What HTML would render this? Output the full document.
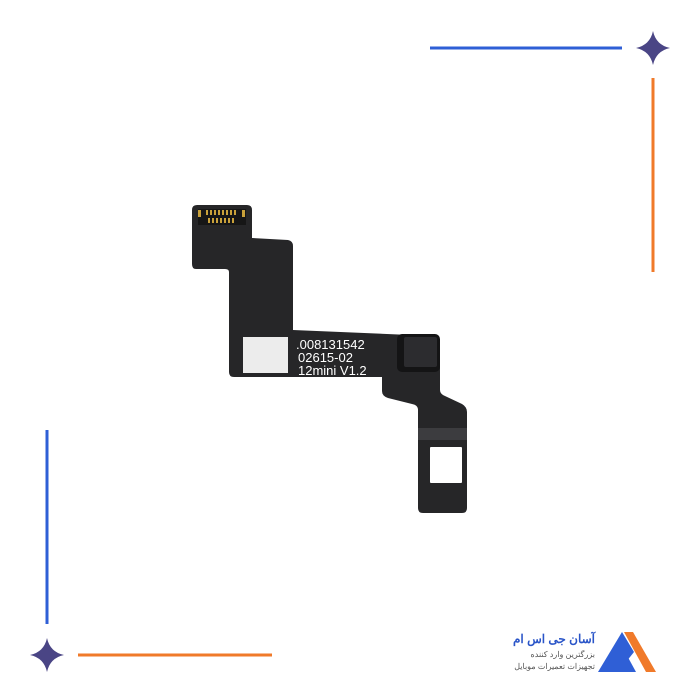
<!DOCTYPE html>
<html><head><meta charset="utf-8"><style>
html,body{margin:0;padding:0;background:#fff;width:700px;height:700px;overflow:hidden}
</style></head><body>
<svg width="700" height="700" viewBox="0 0 700 700" xmlns="http://www.w3.org/2000/svg">
<rect width="700" height="700" fill="#fff"/>
<line x1="430" y1="48" x2="622" y2="48" stroke="#2f5fd6" stroke-width="3"/>
<line x1="653" y1="78" x2="653" y2="272" stroke="#f07a2a" stroke-width="3"/>
<line x1="47" y1="430" x2="47" y2="624" stroke="#2f5fd6" stroke-width="3"/>
<line x1="78" y1="655" x2="272" y2="655" stroke="#f07a2a" stroke-width="3"/>
<path d="M653 31 Q656 45 670 48 Q656 51 653 65 Q650 51 636 48 Q650 45 653 31Z" fill="#4a4585"/>
<path d="M47 638 Q50 652 64 655 Q50 658 47 672 Q44 658 30 655 Q44 652 47 638Z" fill="#4a4585"/>
<path d="M197 205 L247 205 Q252 205 252 210 L252 238 L288 240 Q293 241 293 246 L293 330 L434 336 Q440 337 440 342 L440 390 Q440 394 445 396 L462 404 Q467 407 467 412 L467 508 Q467 513 462 513 L423 513 Q418 513 418 508 L418 410 Q418 405 412 404 L388 398 Q382 396 382 391 L382 377 L234 377 Q229 377 229 372 L229 272 Q229 269 225 269 L196 269 Q192 269 192 264 L192 210 Q192 205 197 205Z" fill="#262628"/>
<rect x="418" y="428" width="49" height="12" fill="#3c3c3f"/>
<rect x="430" y="447" width="32" height="36" fill="#fff" rx="1"/>
<rect x="243" y="337" width="45" height="36" fill="#ececec"/>
<rect x="397" y="334" width="43" height="38" rx="5" fill="#141415"/>
<rect x="404" y="337" width="33" height="30" rx="2" fill="#2c2c2f"/>
<rect x="198" y="209" width="48" height="16" fill="#161616"/>
<g fill="#c9a13a">
<rect x="198" y="210" width="3" height="7"/><rect x="242" y="210" width="3" height="7"/>
<rect x="206" y="210" width="2" height="5"/><rect x="210" y="210" width="2" height="5"/><rect x="214" y="210" width="2" height="5"/><rect x="218" y="210" width="2" height="5"/><rect x="222" y="210" width="2" height="5"/><rect x="226" y="210" width="2" height="5"/><rect x="230" y="210" width="2" height="5"/><rect x="234" y="210" width="2" height="5"/>
<rect x="208" y="218" width="2" height="5"/><rect x="212" y="218" width="2" height="5"/><rect x="216" y="218" width="2" height="5"/><rect x="220" y="218" width="2" height="5"/><rect x="224" y="218" width="2" height="5"/><rect x="228" y="218" width="2" height="5"/><rect x="232" y="218" width="2" height="5"/>
</g>
<g font-family="Liberation Sans, sans-serif" font-size="13" fill="#fff">
<text x="296" y="349">.008131542</text>
<text x="298" y="362">02615-02</text>
<text x="298" y="375">12mini V1.2</text>
</g>
<path d="M598 672 L622 632 L634 652 L618 672Z" fill="#2f5fd6"/>
<path d="M610 672 L624 650 L636 672Z" fill="#2f5fd6"/>
<path d="M624 632 L633 632 L656 672 L646 672Z" fill="#f07a2a"/>
<g font-family="Liberation Sans, 'Noto Sans CJK SC', sans-serif" text-anchor="end" fill="#2a55c8">
<text x="595" y="643" font-size="12" font-weight="bold">آسان جی اس ام</text>
<text x="595" y="657" font-size="8" fill="#555">بزرگترین وارد کننده</text>
<text x="595" y="669" font-size="8" fill="#555">تجهیزات تعمیرات موبایل</text>
</g>
</svg>
</body></html>
